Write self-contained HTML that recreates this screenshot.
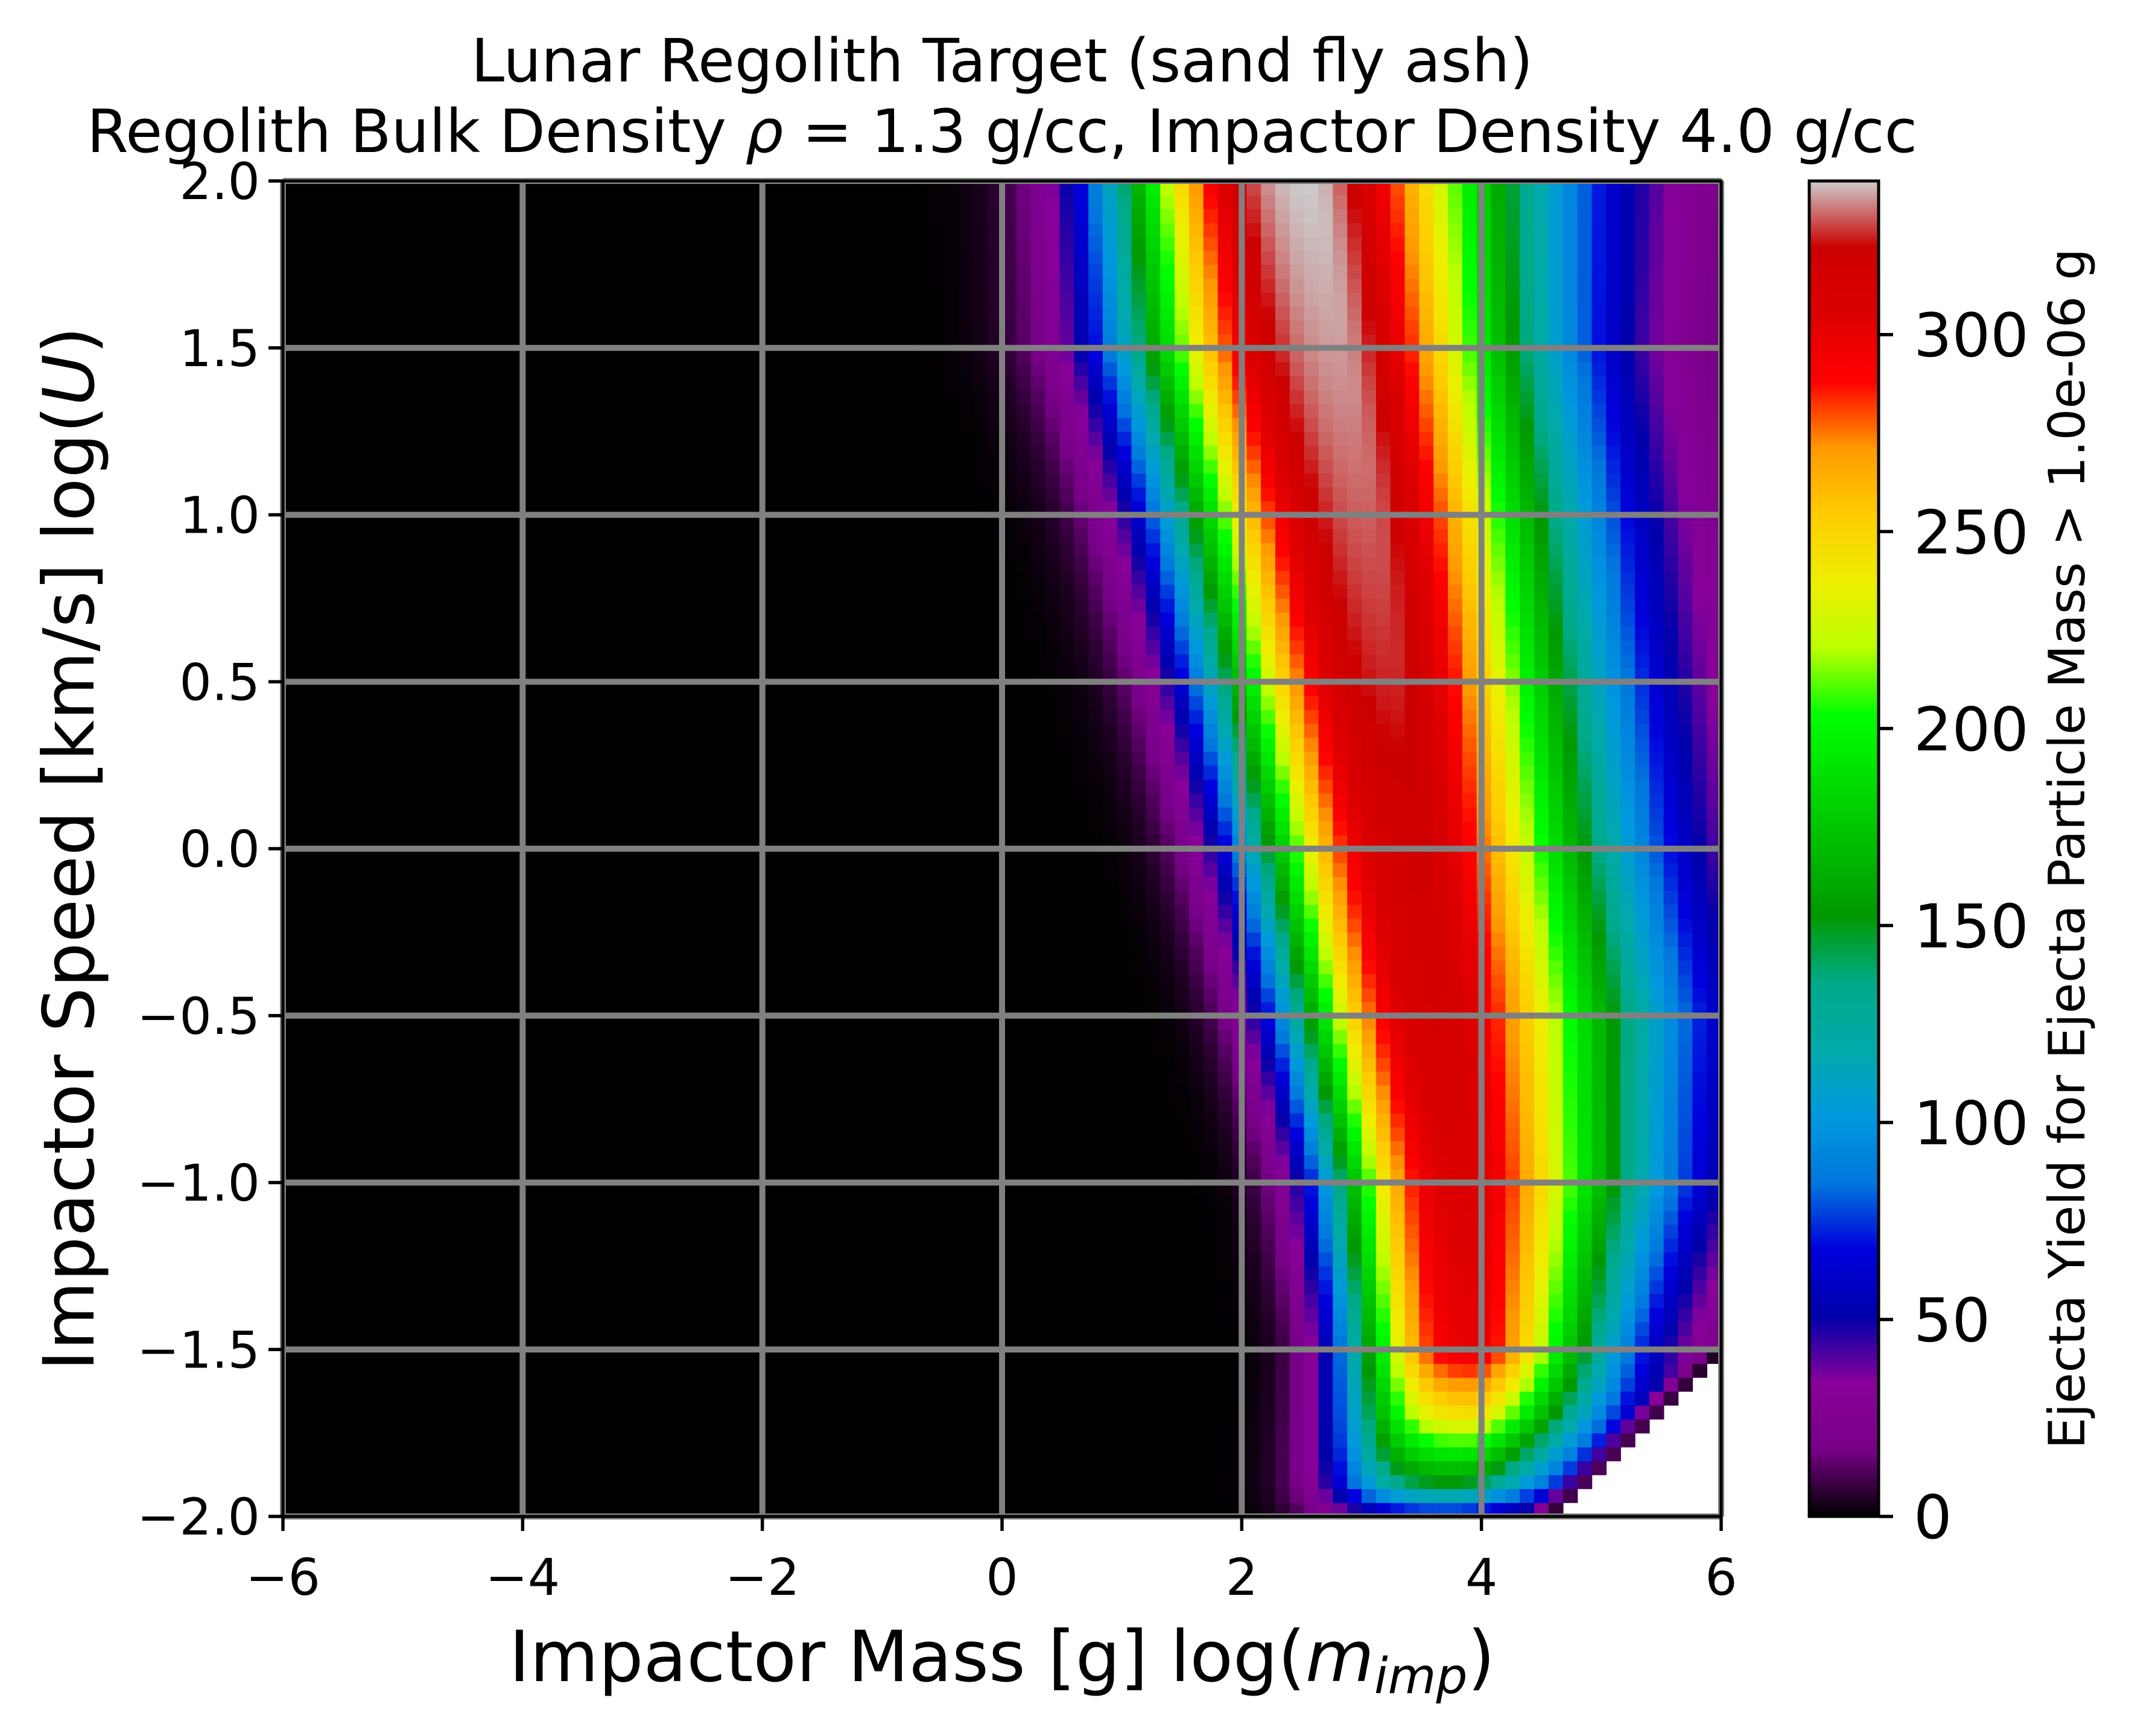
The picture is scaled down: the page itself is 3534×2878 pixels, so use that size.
<!DOCTYPE html>
<html><head><meta charset="utf-8"><style>
html,body{margin:0;padding:0;background:#fff;}
svg{display:block;font-family:"DejaVu Sans","Liberation Sans",sans-serif;}
</style></head><body>
<svg id="fig" width="3534" height="2878" viewBox="0 0 3534 2878" xmlns="http://www.w3.org/2000/svg">
<defs><linearGradient id="cbgrad" x1="0" y1="1" x2="0" y2="0"></linearGradient></defs>
<rect width="3534" height="2878" fill="#fff"/>
<g id="title" font-size="99" text-anchor="middle" fill="#000">
<text x="1661" y="135">Lunar Regolith Target (sand fly ash)</text>
<text x="1661" y="252">Regolith Bulk Density <tspan font-style="italic">ρ</tspan> = 1.3 g/cc, Impactor Density 4.0 g/cc</text>
</g>
<g id="heat"></g>
<g id="grid"></g>
<rect x="469" y="300" width="2384" height="2214" fill="none" stroke="#000" stroke-width="5"/>
<g id="xticks"></g>
<g id="yticks"></g>
<text x="1661" y="2787" font-size="117" text-anchor="middle">Impactor Mass [g] log(<tspan font-style="italic">m</tspan><tspan font-style="italic" font-size="82" dy="20">imp</tspan><tspan dy="-20">)</tspan></text>
<text transform="translate(155,1407) rotate(-90)" font-size="117" text-anchor="middle">Impactor Speed [km/s] log(<tspan font-style="italic">U</tspan>)</text>
<g id="cbar"></g>
<text transform="translate(3455,1407) rotate(-90)" font-size="83" text-anchor="middle">Ejecta Yield for Ejecta Particle Mass &gt; 1.0e-06 g</text>
</svg>
<script>
// ---- data ----
const rowSpeeds   = [2.0, 1.5, 1.0, 0.5, 0.0, -0.5, -1.0, -1.5, -1.6, -1.7, -1.8, -1.9, -2.0];
const peakMass    = [2.6, 2.85, 3.1, 3.3, 3.5, 3.7, 3.9, 3.95, 3.93, 3.9, 3.85, 3.8, 3.75];
const leftSpread  = [1.35, 1.45, 1.35, 1.25, 1.15, 1.05, 0.95, 0.85, 0.85, 0.85, 0.85, 0.85, 0.85];
const rightSpread = [1.3, 1.16, 1.15, 1.15, 1.15, 1.2, 1.05, 0.8, 0.8, 0.78, 0.75, 0.72, 0.7];
const peakYield   = [339, 335, 330, 325, 318, 314, 308, 300, 272, 242, 198, 150, 60];
const maxMassSpeeds = [-1.5, -2.0];
const maxMassVals   = [6.0, 4.55];
const xTickVals = [-6, -4, -2, 0, 2, 4, 6];
const yTickVals = [-2.0, -1.5, -1.0, -0.5, 0.0, 0.5, 1.0, 1.5, 2.0];
const cbTickVals = [0, 50, 100, 150, 200, 250, 300];
const vmax = 339;
const nCols = 100, nRows = 96;

const NS = "http://www.w3.org/2000/svg";
const PL = 469, PR = 2853, PT = 300, PB = 2514;
const xs = m => PL + (m + 6) / 12 * (PR - PL);
const ys = u => PB - (u + 2) / 4 * (PB - PT);

const R=[0,.4667,.5333,0,0,0,0,0,0,0,0,0,0,.7333,.9333,1,1,1,.8667,.8,.8];
const G=[0,0,0,0,0,.4667,.6,.6667,.6667,.6,.7333,.8667,1,1,.9333,.8,.6,0,0,0,.8];
const B=[0,.5333,.6,.6667,.8667,.8667,.8667,.6667,.5333,0,0,0,0,0,0,0,0,0,0,0,.8];
function cmap(t){
  t=Math.max(0,Math.min(1,t));
  const f=t*20, i=Math.min(19,Math.floor(f)), a=f-i;
  const c=k=>Math.round(255*(k[i]+(k[i+1]-k[i])*a));
  return `rgb(${c(R)},${c(G)},${c(B)})`;
}
function interp(arrX, arrY, u){
  for(let i=0;i<arrX.length-1;i++){
    const a=arrX[i], b=arrX[i+1];
    if((u<=a&&u>=b)){const t=(a-u)/(a-b);return arrY[i]+(arrY[i+1]-arrY[i])*t;}
  }
  return u>arrX[0]?arrY[0]:arrY[arrY.length-1];
}
function el(tag, attrs, parent){
  const e=document.createElementNS(NS,tag);
  for(const k in attrs) e.setAttribute(k,attrs[k]);
  parent.appendChild(e); return e;
}

// heatmap
const heat=document.getElementById('heat');
const cw=(PR-PL)/nCols, ch=(PB-PT)/nRows;
for(let r=0;r<nRows;r++){
  const u=-2+(r+0.5)*4/nRows;
  const c=interp(rowSpeeds,peakMass,u), wl=interp(rowSpeeds,leftSpread,u)*1.22,
        wr=interp(rowSpeeds,rightSpread,u)*1.41, P=interp(rowSpeeds,peakYield,u);
  const mMax = u>=maxMassSpeeds[0]?maxMassVals[0]:interp(maxMassSpeeds,maxMassVals,u);
  for(let k=0;k<nCols;k++){
    const m=-6+(k+0.5)*12/nCols;
    if(m>mMax+0.06) continue;
    const d=m-c;
    let v = d<0 ? P*Math.exp(-Math.pow(-d/wl,2.9)) : P*Math.exp(-Math.pow(d/wr,1.7));
    if(u<maxMassSpeeds[0]) v*=Math.max(0.15,Math.min(1,(mMax-m+0.06)/0.25));
    const rect=el('rect',{x:(PL+k*cw).toFixed(2),y:(PB-(r+1)*ch).toFixed(2),width:(cw+0.8).toFixed(2),height:(ch+0.8).toFixed(2),fill:cmap(v/vmax)},heat);
    
    
  }
}
// grid
const grid=document.getElementById('grid');
xTickVals.forEach(v=>{
  const l=el('line',{x1:xs(v),x2:xs(v),y1:PT,y2:PB,stroke:'#808080','stroke-width':10},grid);
  
  
});
yTickVals.forEach(v=>{
  const l=el('line',{x1:PL,x2:PR,y1:ys(v),y2:ys(v),stroke:'#808080','stroke-width':10},grid);
  
  
});
const fmt=v=>(v<0?'\u2212':'')+Math.abs(v);
const xt=document.getElementById('xticks');
xTickVals.forEach(v=>{
  const t=el('line',{x1:xs(v),x2:xs(v),y1:PB,y2:PB+24,stroke:'#000','stroke-width':5.5},xt);
  
  
  const tx=el('text',{x:xs(v),y:PB+130,'font-size':84,'text-anchor':'middle'},xt);
  tx.textContent=fmt(v);
  
  
});
const yt=document.getElementById('yticks');
yTickVals.forEach(v=>{
  const t=el('line',{x1:PL-24,x2:PL,y1:ys(v),y2:ys(v),stroke:'#000','stroke-width':5.5},yt);
  
  
  const tx=el('text',{x:PL-38,y:ys(v)+30,'font-size':84,'text-anchor':'end'},yt);
  tx.textContent=(v<0?'\u2212':'')+Math.abs(v).toFixed(1);
  
  
});
// colorbar
const grad=document.getElementById('cbgrad');
for(let i=0;i<=40;i++){
  const s=el('stop',{offset:(i/40).toFixed(3),'stop-color':cmap(i/40)},grad);
}
const cb=document.getElementById('cbar');
const CX=2999, CW=115;
const cbr=el('rect',{x:CX,y:PT,width:CW,height:PB-PT,fill:'url(#cbgrad)',stroke:'#000','stroke-width':5},cb);


const cy=v=>PB-v/vmax*(PB-PT);
cbTickVals.forEach(v=>{
  const t=el('line',{x1:CX+CW,x2:CX+CW+24,y1:cy(v),y2:cy(v),stroke:'#000','stroke-width':5.5},cb);
  
  
  const tx=el('text',{x:CX+CW+58,y:cy(v)+36,'font-size':100},cb);
  tx.textContent=String(v);
  
  
});
</script>
</body></html>
